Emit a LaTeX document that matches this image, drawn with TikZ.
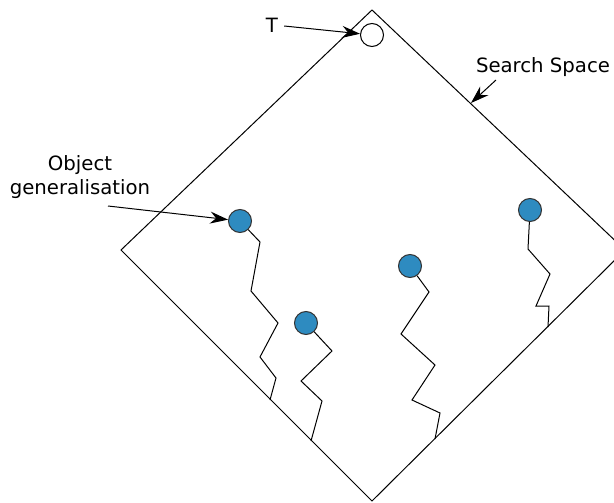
\documentclass[tikz,border=0pt]{standalone}
\usepackage{fontspec}
\setmainfont{DejaVu Sans}
\usepackage{xcolor}
\usepackage{tikz}
\usetikzlibrary{arrows.meta}
\definecolor{genblue}{RGB}{46,139,192}

\begin{document}
\begin{tikzpicture}[x=1pt,y=-1pt,
  gen/.style={circle,draw=black!80,line width=1pt,fill=genblue,inner sep=0pt,minimum size=23pt},
  top/.style={circle,draw=black,line width=1pt,fill=white,inner sep=0pt,minimum size=23pt},
  arr/.style={line width=1pt,-{Stealth[length=18pt,width=12pt,inset=6pt]}},
  lbl/.style={font=\fontsize{19.7}{24}\selectfont,inner sep=0pt,align=center}]
\useasboundingbox (0,0) rectangle (614,503);
\clip (0,0) rectangle (614,503);
% search space
\draw[line width=1pt] (372,10) -- (625,250) -- (372,501) -- (121,250) -- cycle;
% target and generalisations
\node[top] (target) at (372,35) {};
\node[gen] (g1) at (240,221) {};
\node[gen] (g2) at (306,323) {};
\node[gen] (g3) at (410,266) {};
\node[gen] (g4) at (530,210) {};
% labels
\node[lbl] (tlabel) at (272,25) {T};
\node[lbl] (sslabel) at (543,67) {Search Space};
\node[lbl] (oglabel) at (80,177) {Object\\generalisation};
\coordinate (ssfrom) at (496,80);
\coordinate (ssedge) at (471,103);
\coordinate (ogfrom) at (108,206);
\draw[arr] (tlabel.east) ++(6,1) -- (target);
\draw[arr] (ssfrom) -- (ssedge);
\draw[arr] (ogfrom) -- (g1);
% paths down to the border
\draw[line width=1pt] (g1) -- (260,242) -- (251,291) -- (278,323) -- (260,357) -- (276,378) -- (270,400);
\draw[line width=1pt] (g2) -- (332,351) -- (301,381) -- (322,401) -- (311,441);
\draw[line width=1pt] (g3) -- (429,292) -- (401,334) -- (435,365) -- (412,400) -- (440,413) -- (435,439);
\draw[line width=1pt] (g4) -- (528,249) -- (550,274) -- (536,306) -- (549,306) -- (548,327);
\end{tikzpicture}
\end{document}
